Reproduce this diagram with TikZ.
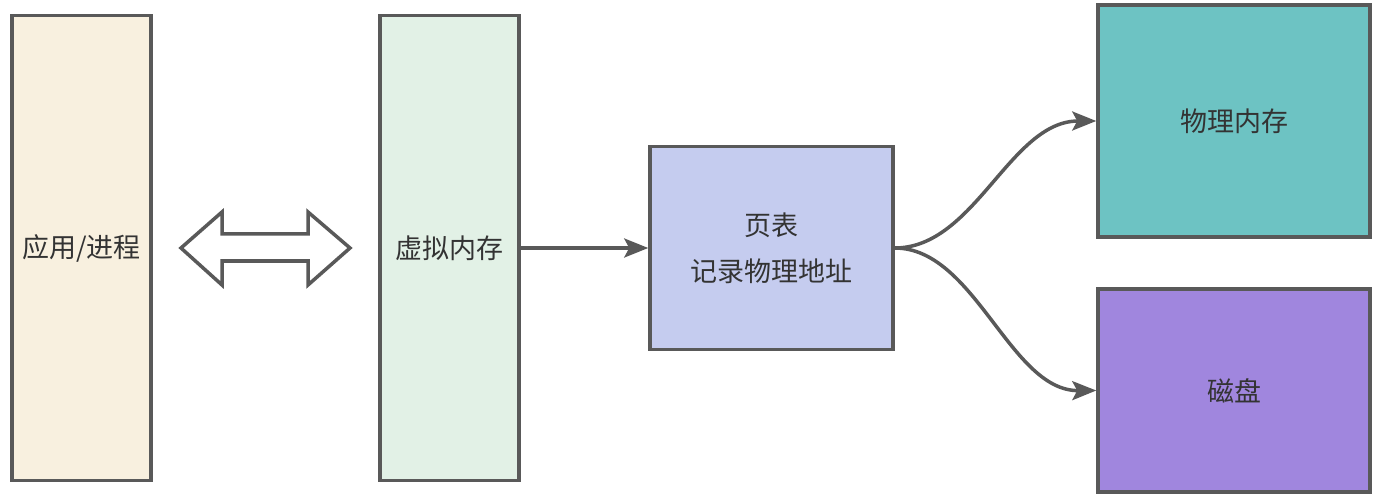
\documentclass[tikz,border=0pt]{standalone}
\usepackage{fontspec}
\setmainfont{Noto Sans CJK SC}
\usetikzlibrary{arrows.meta}
\definecolor{edge}{HTML}{595959}
\definecolor{txt}{HTML}{333333}
\definecolor{cream}{HTML}{F8F0DF}
\definecolor{mint}{HTML}{E2F1E6}
\definecolor{lav}{HTML}{C5CCEF}
\definecolor{teal}{HTML}{6DC3C3}
\definecolor{purp}{HTML}{A086DE}
\tikzset{
  box/.style={draw=edge, line width=3.5pt, inner sep=0pt, text=txt, font=\fontsize{27}{46}\selectfont, align=center},
  conn/.style={draw=edge, line width=3.5pt, -{Stealth[length=24pt,width=19pt,inset=5pt]}},
}
\begin{document}
\begin{tikzpicture}[x=1pt,y=-1pt]
\useasboundingbox (0,0) rectangle (1387,497);
\node[box, fill=cream, minimum width=139pt, minimum height=465pt] (app) at (81.5,248) {应用/进程};
\node[box, fill=mint, minimum width=139pt, minimum height=465pt] (vm) at (449.5,248) {虚拟内存};
\node[box, fill=lav, minimum width=243pt, minimum height=203pt] (pt) at (771.5,248) {页表\\记录物理地址};
\node[box, fill=teal, minimum width=272pt, minimum height=232pt] (pm) at (1234,121) {物理内存};
\node[box, fill=purp, minimum width=272pt, minimum height=203pt] (disk) at (1234,390.5) {磁盘};
% double arrow
\draw[draw=edge, line width=3.5pt, line join=miter]
  (181,248) -- (222,212) -- (222,234) -- (308,234) -- (308,212) -- (350,248)
  -- (308,285) -- (308,261) -- (222,261) -- (222,285) -- cycle;
\draw[conn] (vm.east) -- (pt.west);
\draw[conn] (pt.east) .. controls (975,248) and (1010,121) .. (pm.west);
\draw[conn] (pt.east) .. controls (975,248) and (1010,391) .. (disk.west);
\end{tikzpicture}
\end{document}
